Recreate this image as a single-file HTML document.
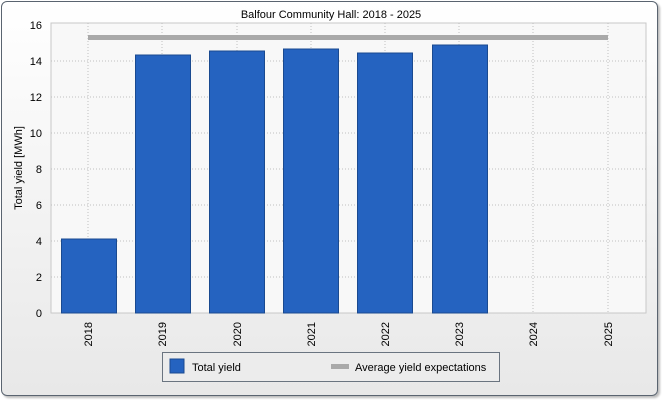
<!DOCTYPE html><html><head><style>
body{margin:0;background:#fff;font-family:"Liberation Sans",sans-serif;}
#w{position:relative;width:662px;height:400px;overflow:hidden;background:#fff}
#panel{position:absolute;left:1px;top:1px;width:655px;height:393px;border:1px solid #5a6470;border-radius:6px;background:linear-gradient(#fff,#e8e8e8);box-shadow:2px 2px 2px #bbb}
</style></head><body><div id="w"><div id="panel"></div>
<svg width="662" height="400" style="position:absolute;left:0;top:0" font-family="Liberation Sans, sans-serif">
<rect x="51" y="23" width="595" height="290" fill="#f8f8f8" stroke="#c8c8c8"/>
<g stroke="#c0c0c0" stroke-dasharray="1,2">
<line x1="51" x2="646" y1="277" y2="277"/><line x1="51" x2="646" y1="241" y2="241"/><line x1="51" x2="646" y1="205" y2="205"/><line x1="51" x2="646" y1="169" y2="169"/><line x1="51" x2="646" y1="133" y2="133"/><line x1="51" x2="646" y1="97" y2="97"/><line x1="51" x2="646" y1="61" y2="61"/>
<line x1="88" x2="88" y1="23" y2="313"/><line x1="162" x2="162" y1="23" y2="313"/><line x1="237" x2="237" y1="23" y2="313"/><line x1="311" x2="311" y1="23" y2="313"/><line x1="385" x2="385" y1="23" y2="313"/><line x1="459" x2="459" y1="23" y2="313"/><line x1="533" x2="533" y1="23" y2="313"/><line x1="608" x2="608" y1="23" y2="313"/>
</g>
<g fill="#2563c0" stroke="#1a4a90">
<rect x="61.5" y="239" width="55" height="74"/><rect x="135.5" y="55" width="55" height="258"/><rect x="209.5" y="51" width="55" height="262"/><rect x="283.5" y="49" width="55" height="264"/><rect x="357.5" y="53" width="55" height="260"/><rect x="432.5" y="45" width="55" height="268"/>
</g>
<rect x="88" y="35" width="520" height="5" fill="#a9a9a9"/>
<g font-size="11" fill="#000" text-anchor="end">
<text x="42" y="317">0</text><text x="42" y="281">2</text><text x="42" y="245">4</text><text x="42" y="209">6</text><text x="42" y="173">8</text><text x="42" y="137">10</text><text x="42" y="101">12</text><text x="42" y="65">14</text><text x="42" y="29">16</text>
</g>
<g font-size="11" text-anchor="end">
<text transform="translate(92,322) rotate(-90)">2018</text><text transform="translate(166,322) rotate(-90)">2019</text><text transform="translate(241,322) rotate(-90)">2020</text><text transform="translate(315,322) rotate(-90)">2021</text><text transform="translate(389,322) rotate(-90)">2022</text><text transform="translate(463,322) rotate(-90)">2023</text><text transform="translate(537,322) rotate(-90)">2024</text><text transform="translate(612,322) rotate(-90)">2025</text>
</g>
<text x="331" y="18" font-size="11" text-anchor="middle">Balfour Community Hall: 2018 - 2025</text>
<text transform="translate(22,168) rotate(-90)" font-size="11" text-anchor="middle">Total yield [MWh]</text>
<rect x="162.5" y="352.5" width="337" height="29" fill="#ececec" stroke="#6a7480"/>
<rect x="170" y="359" width="14" height="14" fill="#2563c0" stroke="#1a4a90"/>
<text x="192" y="371" font-size="11">Total yield</text>
<rect x="331" y="364" width="18" height="5" fill="#a9a9a9"/>
<text x="355" y="371" font-size="11">Average yield expectations</text>
</svg></div></body></html>
